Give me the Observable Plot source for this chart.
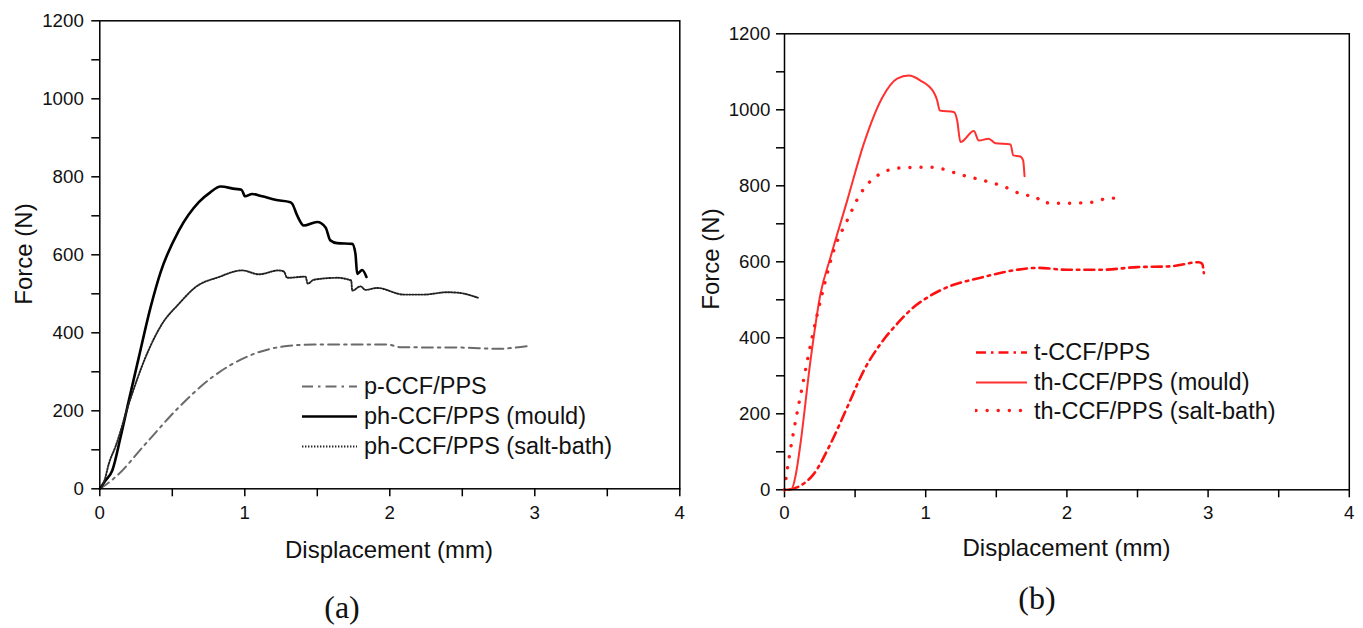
<!DOCTYPE html>
<html><head><meta charset="utf-8">
<script src="https://cdn.jsdelivr.net/npm/d3@7"></script>
<script src="https://cdn.jsdelivr.net/npm/@observablehq/plot@0.6"></script>
<style>
body{margin:0;background:#fff;width:1363px;height:628px;position:relative;overflow:hidden;font-family:"Liberation Sans",Arial,sans-serif;color:#111}
.abs{position:absolute;white-space:nowrap}
.title{font-size:24px;transform:translate(-50%,-50%)}
.ytitle{font-size:24px;transform:translate(-50%,-50%) rotate(-90deg)}
.tag{font-family:"Liberation Serif","Times New Roman",serif;font-size:32px;transform:translate(-50%,-50%)}
.leg{font-size:23.5px;display:flex;align-items:center;transform:translateY(-50%)}
.leg svg{margin-right:6px}
</style></head><body>
<div id="pa" class="abs" style="left:0;top:0"></div>
<div id="pb" class="abs" style="left:700px;top:0"></div>
<script>
// ---------- data ----------
const xMajor = [0, 1, 2, 3, 4];
const xMinor = [0.5, 1.5, 2.5, 3.5];
const yMajor = [0, 200, 400, 600, 800, 1000, 1200];
const yMinor = [100, 300, 500, 700, 900, 1100];

const namesA = ["p-CCF/PPS", "ph-CCF/PPS (mould)", "ph-CCF/PPS (salt-bath)"];
const namesB = ["t-CCF/PPS", "th-CCF/PPS (mould)", "th-CCF/PPS (salt-bath)"];

// panel (a)
const aPX = [0, 0.017, 0.108, 0.315, 0.545, 0.775, 1.005, 1.234, 1.476, 1.982, 2.074, 2.5, 2.741, 2.97];
const aPF = [0, 4, 30, 115, 209, 286, 337, 363, 370, 370, 363, 362, 359, 367];

const aMX = [0, 0.039, 0.086, 0.143, 0.2, 0.269, 0.35, 0.419, 0.545, 0.683, 0.762, 0.832, 0.934, 0.977, 1.002, 1.051, 1.12, 1.21, 1.314, 1.327, 1.361, 1.407, 1.499, 1.557, 1.59, 1.637, 1.741, 1.763, 1.775, 1.81, 1.839];
const aMF = [0, 21, 47, 132, 226, 337, 465, 555, 662, 735, 760, 775, 769, 767, 750, 756, 750, 741, 735, 731, 701, 675, 684, 670, 637, 630, 628, 603, 551, 561, 543];

const aSX = [0, 0.032, 0.062, 0.11, 0.2, 0.315, 0.43, 0.545, 0.66, 0.821, 0.982, 1.097, 1.234, 1.27, 1.292, 1.419, 1.434, 1.476, 1.637, 1.734, 1.741, 1.798, 1.832, 1.913, 2.097, 2.234, 2.396, 2.488, 2.557, 2.607];
const aSF = [0, 21, 64, 110, 218, 337, 423, 474, 517, 543, 560, 550, 560, 557, 541, 544, 526, 536, 541, 534, 508, 519, 510, 515, 498, 498, 504, 502, 496, 490];

// panel (b)
const bTX = [0.03, 0.113, 0.208, 0.326, 0.444, 0.562, 0.68, 0.798, 0.916, 1.034, 1.152, 1.388, 1.648, 1.79, 2.002, 2.238, 2.498, 2.734, 2.934, 2.958, 2.97];
const bTF = [0, 11, 42, 121, 217, 314, 384, 437, 481, 511, 533, 558, 579, 584, 579, 579, 586, 588, 599, 595, 570];

const bMX = [0, 0.05, 0.08, 0.113, 0.184, 0.255, 0.326, 0.444, 0.562, 0.694, 0.798, 0.88, 0.963, 1.057, 1.081, 1.1, 1.199, 1.223, 1.246, 1.341, 1.376, 1.447, 1.494, 1.601, 1.62, 1.671, 1.69, 1.7];
const bMF = [0, 2, 40, 121, 340, 516, 612, 761, 911, 1033, 1082, 1090, 1077, 1046, 1025, 998, 994, 972, 915, 944, 919, 924, 912, 909, 880, 877, 867, 825];

const bSX = [0, 0.019, 0.066, 0.125, 0.196, 0.267, 0.349, 0.444, 0.538, 0.68, 0.822, 1.034, 1.27, 1.388, 1.553, 1.671, 1.79, 1.813, 1.955, 2.19, 2.273, 2.375];
const bSF = [0, 51, 156, 270, 402, 516, 630, 709, 779, 832, 847, 849, 827, 816, 798, 779, 768, 757, 754, 757, 766, 768];

// ---------- helpers ----------
const rows = (xs, fs) => xs.map((x, i) => ({x, f: fs[i]}));

const stylesA = [
  {stroke: "#6a6a6a", strokeWidth: 2, strokeDasharray: "11 5 2.5 5"},
  {stroke: "#000", strokeWidth: 2.6},
  {stroke: "#222", strokeWidth: 1.9, strokeDasharray: "1.4 1.6"}
];
const stylesB = [
  {stroke: "#ff1010", strokeWidth: 2.6, strokeDasharray: "10 5 2.5 5"},
  {stroke: "#ff3030", strokeWidth: 2},
  {stroke: "#ff1a1a", strokeWidth: 3.4, strokeDasharray: "0.1 11", strokeLinecap: "round"}
];

function panel(series, styles, g) {
  return Plot.plot({
    width: g.w, height: g.h,
    marginLeft: g.ml, marginRight: g.mr, marginTop: g.mt, marginBottom: g.mb,
    x: {domain: [0, 4], label: null},
    y: {domain: [0, 1200], label: null},
    style: {fontFamily: '"Liberation Sans", Arial, sans-serif', fontSize: "18.7px", color: "#111", background: "transparent", overflow: "visible"},
    marks: [
      Plot.axisX({ticks: xMajor, tickSize: 8, tickPadding: g.xpad, tickFormat: d => String(d), label: null, strokeWidth: 1.5, stroke: "#000"}),
      Plot.axisX({ticks: xMinor, tickSize: 8, tickFormat: () => "", label: null, strokeWidth: 1.5, stroke: "#000"}),
      Plot.axisY({ticks: yMajor, tickSize: 8, tickPadding: g.ypad, tickFormat: d => String(d), label: null, strokeWidth: 1.5, stroke: "#000"}),
      Plot.axisY({ticks: yMinor, tickSize: 8, tickFormat: () => "", label: null, strokeWidth: 1.5, stroke: "#000"}),
      ...series.map((s, i) => Plot.line(s, {x: "x", y: "f", curve: "monotone-x", ...styles[i]})),
      Plot.frame({stroke: "#000", strokeWidth: 1.5})
    ]
  });
}

document.getElementById("pa").append(panel(
  [rows(aPX, aPF), rows(aMX, aMF), rows(aSX, aSF)], stylesA,
  {w: 700, h: 560, ml: 99.3, mr: 20.7, mt: 20.3, mb: 71.7, xpad: 9, ypad: 8}
));
document.getElementById("pb").append(panel(
  [rows(bTX, bTF), rows(bMX, bMF), rows(bSX, bSF)], stylesB,
  {w: 663, h: 560, ml: 84, mr: 14.2, mt: 33.3, mb: 70.7, xpad: 8, ypad: 6.2}
));

// ---------- text & legends ----------
function addText(cls, txt, x, y) {
  const d = document.createElement("div");
  d.className = "abs " + cls;
  d.style.left = x + "px"; d.style.top = y + "px";
  d.textContent = txt;
  document.body.append(d);
}
addText("ytitle", "Force (N)", 24, 254);
addText("title", "Displacement (mm)", 389, 550);
addText("tag", "(a)", 342, 607);
addText("ytitle", "Force (N)", 711, 259);
addText("title", "Displacement (mm)", 1066.5, 548);
addText("tag", "(b)", 1037, 598);

function legend(names, styles, x, ys, len) {
  names.forEach((n, i) => {
    const d = document.createElement("div");
    d.className = "abs leg";
    d.style.left = x + "px"; d.style.top = ys[i] + "px";
    const s = styles[i];
    d.innerHTML = `<svg width="${len}" height="10"><line x1="1" x2="${len - 1}" y1="5" y2="5" stroke="${s.stroke}" stroke-width="${s.strokeWidth}" ${s.strokeDasharray ? `stroke-dasharray="${s.strokeDasharray}"` : ""} ${s.strokeLinecap ? `stroke-linecap="${s.strokeLinecap}"` : ""}/></svg><span>${n}</span>`;
    document.body.append(d);
  });
}
legend(namesA, stylesA, 301, [386, 416, 446], 57);
legend(namesB, stylesB, 975, [352, 382, 410.5], 53);
</script>
</body></html>
